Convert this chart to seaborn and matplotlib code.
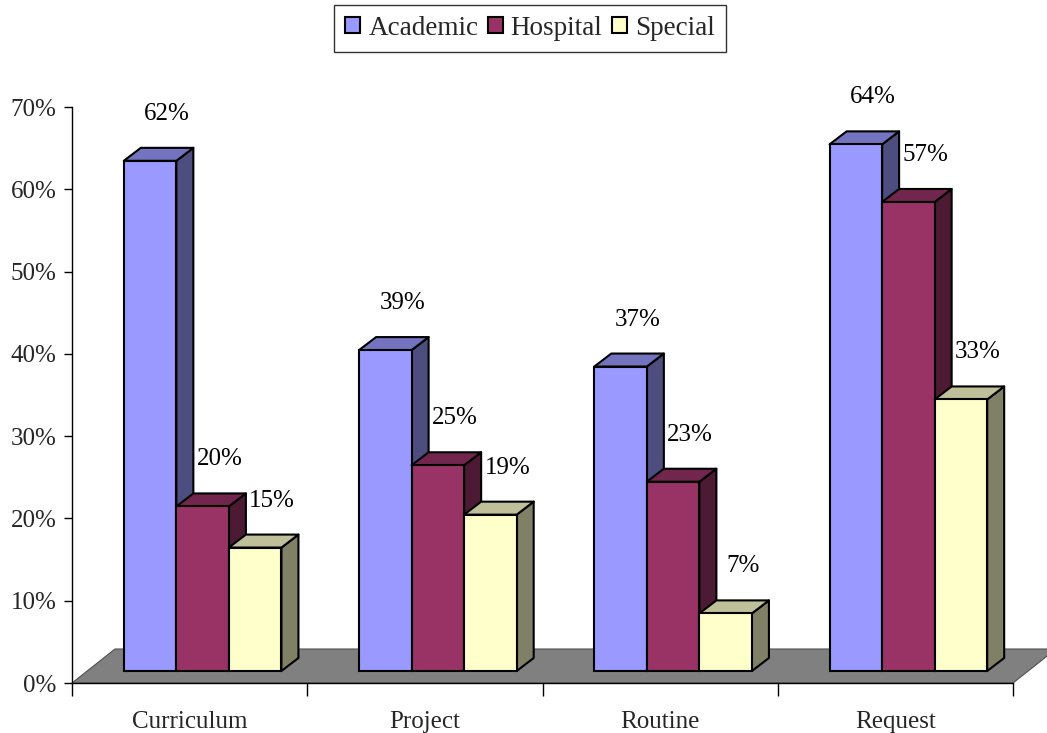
import matplotlib
matplotlib.use("Agg")
import matplotlib.pyplot as plt
import matplotlib.transforms as mtrans
from matplotlib.patches import Polygon, Patch
import matplotlib.colors as mcolors
import seaborn as sns
import pandas as pd
import numpy as np

categories = ["Curriculum", "Project", "Routine", "Request"]
series = ["Academic", "Hospital", "Special"]
academic = [62, 39, 37, 64]
hospital = [20, 25, 23, 57]
special = [15, 19, 7, 33]
front_colors = ["#9999FF", "#993366", "#FFFFCC"]
y_ticks = [0, 10, 20, 30, 40, 50, 60, 70]

sns.set_theme(style="white")
plt.rcParams["font.family"] = ["Liberation Serif", "DejaVu Serif"]

W, H = 1047, 733
DPI = 100
fig = plt.figure(figsize=(W / DPI, H / DPI), dpi=DPI)
ax_l, ax_r, ax_b, ax_t = 72, 1013, 683, 107
ax = fig.add_axes([ax_l / W, (H - ax_b) / H, (ax_r - ax_l) / W, (ax_b - ax_t) / H])

rows = []
for s, vals in zip(series, [academic, hospital, special]):
    for c, v in zip(categories, vals):
        rows.append({"category": c, "series": s, "value": v})
df = pd.DataFrame(rows)

sns.barplot(data=df, x="category", y="value", hue="series", order=categories,
            hue_order=series, palette=front_colors, width=0.67, gap=0,
            saturation=1, edgecolor="black", linewidth=1.5, ax=ax, legend=False)

ax.set_xlim(-0.5, 3.5)
ax.set_ylim(0, 70)

px_x = (ax_r - ax_l) / 4.0
px_y = (ax_b - ax_t) / 70.0

# floor
fdx, fdy = 43 / px_x, 34 / px_y
floor = Polygon([(-0.5, 0), (3.5, 0), (3.5 + fdx, fdy), (-0.5 + fdx, fdy)],
                closed=True, facecolor="#808080", edgecolor="#505050",
                linewidth=0.8, clip_on=False, zorder=0.5)
ax.add_patch(floor)

# bar 3D faces
shift = mtrans.ScaledTranslation(13 / DPI, 12 / DPI, fig.dpi_scale_trans)
tr = ax.transData + shift
ddx, ddy = 17 / px_x, 13 / px_y

bars = sorted([p for p in ax.patches if p is not floor and p.get_height() > 0],
              key=lambda p: p.get_x())
for i, p in enumerate(bars):
    x0, w, h = p.get_x(), p.get_width(), p.get_height()
    fc = np.array(mcolors.to_rgb(p.get_facecolor()))
    z = 2 + i * 0.1
    side = Polygon([(x0 + w, 0), (x0 + w + ddx, ddy), (x0 + w + ddx, h + ddy), (x0 + w, h)],
                   closed=True, facecolor=fc * 0.5, edgecolor="black", linewidth=1.5,
                   transform=tr, clip_on=False, zorder=z, joinstyle="round")
    top = Polygon([(x0, h), (x0 + w, h), (x0 + w + ddx, h + ddy), (x0 + ddx, h + ddy)],
                  closed=True, facecolor=fc * 0.75, edgecolor="black", linewidth=1.5,
                  transform=tr, clip_on=False, zorder=z, joinstyle="round")
    ax.add_patch(side)
    ax.add_patch(top)
    p.set_transform(tr)
    p.set_clip_on(False)
    p.set_zorder(z + 0.05)
    ax.annotate(f"{int(round(h))}%", xy=(x0 + w / 2, h), xytext=(30, 59),
                textcoords="offset pixels", ha="center", va="center",
                fontsize=18, color="black", zorder=10, annotation_clip=False)

# axes styling
for s in ["top", "right"]:
    ax.spines[s].set_visible(False)
for s in ["left", "bottom"]:
    ax.spines[s].set_color("black")
    ax.spines[s].set_linewidth(1.0)
    ax.spines[s].set_zorder(1)

ax.set_yticks(y_ticks)
ax.set_yticklabels([f"{t}%" for t in y_ticks])
ax.set_xticks(range(len(categories)))
ax.set_xticklabels(categories)
ax.set_xticks(np.arange(-0.5, 4.0, 1.0), minor=True)
ax.tick_params(axis="y", direction="out", length=6, width=1, color="black",
               labelsize=18, pad=5, left=True)
ax.tick_params(axis="x", which="major", length=0, labelsize=18, pad=20)
ax.tick_params(axis="x", which="minor", direction="out", length=9, width=1,
               color="black", bottom=True)
ax.set_xlabel("")
ax.set_ylabel("")
ax.grid(False)

handles = [Patch(facecolor=c, edgecolor="black", linewidth=1.5, label=s)
           for c, s in zip(front_colors, series)]
leg = fig.legend(handles=handles, loc="upper center", ncol=3,
                 bbox_to_anchor=(530 / W, 1 - 5 / H), frameon=True, fancybox=False,
                 edgecolor="black", fontsize=19.5, handlelength=0.55, handleheight=0.55,
                 handletextpad=0.3, columnspacing=0.35, borderpad=0.4, borderaxespad=0)
leg.get_frame().set_linewidth(1.0)

fig.savefig("out.png", dpi=DPI, facecolor="white")
